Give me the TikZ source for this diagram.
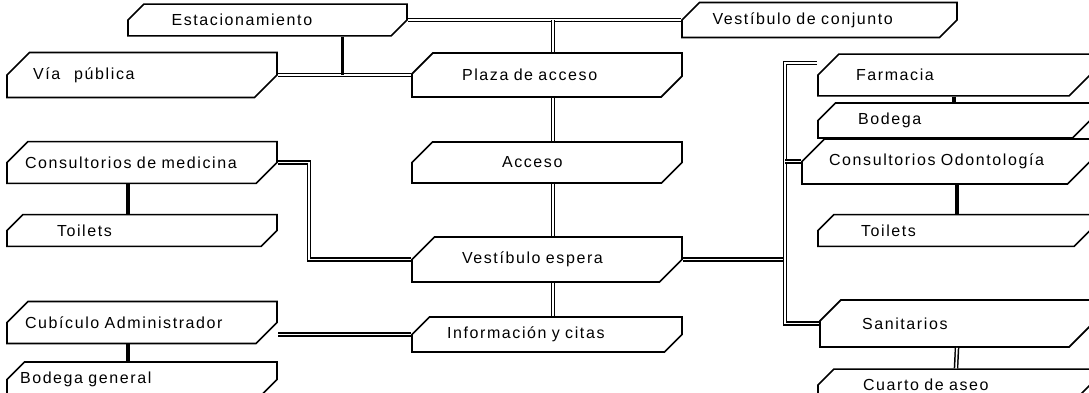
\documentclass[tikz,border=0pt]{standalone}
\usepackage{fontspec}
\setmainfont[LetterSpace=10, WordSpace=1.9]{Liberation Sans}
\usetikzlibrary{shapes.misc, positioning, calc}

\begin{document}
\begin{tikzpicture}[x=1pt, y=-1pt,
  rbox/.style={chamfered rectangle, chamfered rectangle corners={north west,south east},
              chamfered rectangle xsep=20pt, chamfered rectangle ysep=15pt,
              draw, line width=1.7pt, minimum width=270pt, inner sep=0pt,
              text width=250pt, align=left, font=\fontsize{16}{18}\selectfont},
  sbox/.style={rbox, chamfered rectangle xsep=15pt, chamfered rectangle ysep=10pt},
  pad/.style={execute at begin node={\hspace*{#1}}},
  dline/.style={double, double distance=1.6pt, line width=1.5pt},
  tline/.style={line width=3.6pt}
]
\useasboundingbox (0,0) rectangle (1089,393);
% top row
\node[sbox, minimum width=279pt, minimum height=26pt, pad=29pt] (est) at (267.5,20) {Estacionamiento};
\node[sbox, minimum width=275pt, minimum height=26pt, pad=18pt] (vc) at (819.5,20) {Vestíbulo de conjunto};
% left column
\node[rbox, minimum height=44pt, pad=16pt] (via) at (142,75) {Vía\hspace{14pt}pública};
\node[rbox, minimum height=35pt, pad=8pt] (cmed) at (142,162.5) {Consultorios de medicina};
\node[sbox, minimum height=25pt, pad=40pt] (toilL) at (142,230.5) {Toilets};
\node[rbox, minimum height=41pt, pad=8pt] (cub) at (142,322.5) {Cubículo Administrador};
\node[sbox, minimum height=25pt, pad=3pt] (bodG) at (142,379.5) {Bodega general};
% central column
\node[rbox, minimum height=44pt, pad=40pt] (plaza) at (547,75) {Plaza de acceso};
\node[rbox, minimum height=39pt, pad=80pt] (acceso) at (547,162.5) {Acceso};
\node[rbox, minimum height=35pt, pad=40pt] (vesp) at (547,259.5) {Vestíbulo espera};
\node[sbox, minimum height=25pt, pad=25pt] (info) at (547,334.5) {Información y citas};
% right column
\node[rbox, minimum width=272pt, minimum height=40pt, pad=27pt] (farm) at (954,75) {Farmacia};
\node[sbox, minimum width=272pt, minimum height=29pt, pad=29pt] (bodR) at (954,120.5) {Bodega};
\node[rbox, minimum width=288pt, minimum height=37pt, pad=8pt] (codon) at (946,161.5) {Consultorios Odontología};
\node[sbox, minimum width=272pt, minimum height=25pt, pad=32pt] (toilR) at (954,230.5) {Toilets};
\node[rbox, minimum width=270pt, minimum height=47pt, pad=32pt] (sanit) at (955,323.5) {Sanitarios};
\node[sbox, minimum width=272pt, minimum height=26pt, pad=34pt] (cuarto) at (954,385) {Cuarto de aseo};
% connectors
\draw[dline] (est.east) -- (vc.west);
\draw[dline] ([xshift=6pt]plaza.north) -- ([xshift=6pt]plaza.north |- est.east);
\draw[dline] (via.east) -- (plaza.west);
\draw[tline] ([xshift=75pt]est.south) -- ([xshift=75pt]est.south |- via.east);
\draw[dline] ([xshift=6pt]plaza.south) -- ([xshift=6pt]acceso.north);
\draw[dline] ([xshift=6pt]acceso.south) -- ([xshift=6pt]vesp.north);
\draw[dline] ([xshift=6pt]vesp.south) -- ([xshift=6pt]info.north);
\draw[dline] (cmed.east) -- ++(31,0) |- (vesp.west);
\draw[tline] ([xshift=-14pt]cmed.south) -- ([xshift=-14pt]toilL.north);
\draw[tline] ([xshift=-14pt]cub.south) -- ([xshift=-14pt]bodG.north);
\draw[dline] (info.west) -- (info.west -| cub.east);
\coordinate (trunk) at (785,0);
\draw[dline] (vesp.east) -- (vesp.east -| trunk);
\draw[dline] ([yshift=12pt]farm.west) -| (trunk |- sanit.west) -- (sanit.west);
\draw[dline] (codon.west) -- (codon.west -| trunk);
\draw[tline] (farm.south) -- (bodR.north);
\draw[tline] ([xshift=11pt]codon.south) -- ([xshift=11pt]codon.south |- toilR.north);
\draw[dline] ([xshift=2pt]sanit.south) -- ([xshift=2pt]cuarto.north);
\end{tikzpicture}
\end{document}
